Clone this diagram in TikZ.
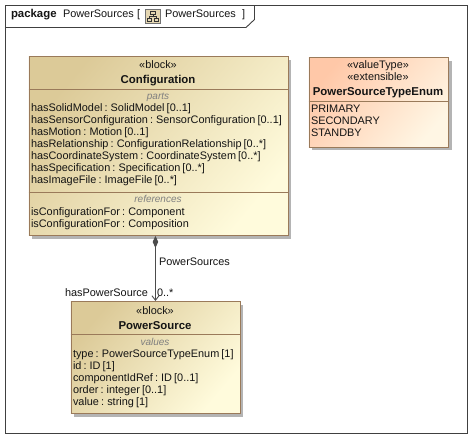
\documentclass[tikz,border=0pt]{standalone}
\usepackage{fontspec}
\setmainfont{Liberation Sans}
\usetikzlibrary{arrows.meta}
\definecolor{blockdark}{HTML}{DCCA98}
\definecolor{blocklight}{HTML}{FFFBDC}
\definecolor{enumdark}{HTML}{FFC8A8}
\definecolor{enumlight}{HTML}{FFF6E4}
\definecolor{edgebrown}{HTML}{9A7A5A}
\definecolor{shadowgray}{HTML}{B4B4B4}
\definecolor{inktext}{HTML}{141414}
\newcommand{\rowfont}{\fontsize{10.9}{12}\selectfont\spaceskip=2.1pt\relax}
\tikzset{
  x=1pt,y=-1pt,
  txt/.style={anchor=base west,inner sep=0pt,outer sep=0pt,font=\rowfont,text=inktext},
  ctr/.style={txt,anchor=base},
  boldtxt/.style={ctr,font=\fontsize{11.4}{12}\selectfont\bfseries},
  comp/.style={ctr,font=\fontsize{10}{12}\selectfont\itshape,text=black!50},
  boxshadow/.style={fill=shadowgray,draw=none},
  blockbox/.style={draw=edgebrown,line width=0.9pt,shading=axis,left color=blockdark,right color=blocklight,shading angle=50},
  enumbox/.style={draw=edgebrown,line width=0.9pt,shading=axis,left color=enumdark,right color=enumlight,shading angle=50},
  divider/.style={draw=edgebrown,line width=0.8pt},
  frameline/.style={draw=black!75,line width=0.9pt},
  assoc/.style={draw=black!70,line width=0.9pt,{Diamond[length=12pt,width=5.5pt,fill=black!70]}-{Straight Barb[length=4.5pt,width=7pt]}},
}
\begin{document}
\begin{tikzpicture}
\useasboundingbox (0,0) rectangle (473,438);
\fill[white] (0,0) rectangle (473,438);
% frame
\draw[frameline] (5.5,5.5) rectangle (467.5,433);
\draw[frameline] (5.5,27.5) -- (246,27.5) -- (254.5,19.5) -- (254.5,5.5);
\node[txt,font=\fontsize{11.4}{12}\selectfont\bfseries] (kw) at (11,18) {package};
\node[txt] (t1) at (63,18) {PowerSources};
\node[txt] (t2) at (137,18) {[};
\node[txt] (t3) at (165,18) {PowerSources};
\node[txt] (t4) at (242,18) {]};
% icon
\draw[draw=black!55,fill=blockdark!75,line width=0.6pt] (145.5,9) rectangle (160.5,23.5);
\draw[black!80,line width=0.6pt] (150.5,11) rectangle (155.5,14.5) (147.5,18.5) rectangle (151.5,21.5) (154.5,18.5) rectangle (158.5,21.5) (153,14.5) -- (153,16.5) (149.5,18.5) -- (149.5,16.5) -- (156.5,16.5) -- (156.5,18.5);
% shadows
\fill[boxshadow] (32,60) rectangle (291,238.5);
\fill[boxshadow] (74,305) rectangle (243,416.5);
\fill[boxshadow] (312,61) rectangle (451.5,150.5);
% Configuration
\node[blockbox,minimum width=259pt,minimum height=178.5pt,inner sep=0pt,anchor=north west] (cfg) at (28.5,56.5) {};
\draw[divider] (28.5,89.5) -- (287.5,89.5);
\draw[divider] (28.5,192) -- (287.5,192);
\node[ctr] (c0) at (158,69) {«block»};
\node[boldtxt] (c1) at (158,84) {Configuration};
\node[comp] (c2) at (158,100) {parts};
\node[txt] (c3) at (31,112) {hasSolidModel : SolidModel [0..1]};
\node[txt] (c4) at (31,124) {hasSensorConfiguration : SensorConfiguration [0..1]};
\node[txt] (c5) at (31,136) {hasMotion : Motion [0..1]};
\node[txt] (c6) at (31,148) {hasRelationship : ConfigurationRelationship [0..*]};
\node[txt] (c7) at (31,160) {hasCoordinateSystem : CoordinateSystem [0..*]};
\node[txt] (c8) at (31,172) {hasSpecification : Specification [0..*]};
\node[txt] (c9) at (31,184) {hasImageFile : ImageFile [0..*]};
\node[comp] (c10) at (158,203) {references};
\node[txt] (c11) at (31,215) {isConfigurationFor : Component};
\node[txt] (c12) at (31,227) {isConfigurationFor : Composition};
% PowerSource
\node[blockbox,minimum width=169pt,minimum height=112pt,inner sep=0pt,anchor=north west] (ps) at (70.5,301) {};
\draw[divider] (70.5,334) -- (239.5,334);
\node[ctr] (p0) at (155,314) {«block»};
\node[boldtxt] (p1) at (155,329) {PowerSource};
\node[comp] (p2) at (155,345) {values};
\node[txt] (p3) at (73,357) {type : PowerSourceTypeEnum [1]};
\node[txt] (p4) at (73,369) {id : ID [1]};
\node[txt] (p5) at (73,381) {componentIdRef : ID [0..1]};
\node[txt] (p6) at (73,393) {order : integer [0..1]};
\node[txt] (p7) at (73,405) {value : string [1]};
% Enum
\node[enumbox,minimum width=139.5pt,minimum height=90pt,inner sep=0pt,anchor=north west] (en) at (308.5,57) {};
\draw[divider] (308.5,101) -- (448,101);
\node[ctr] (e0) at (378,69) {«valueType»};
\node[ctr] (e1) at (378,81) {«extensible»};
\node[boldtxt] (e2) at (378,96) {PowerSourceTypeEnum};
\node[txt] (e3) at (311,113) {PRIMARY};
\node[txt] (e4) at (311,125) {SECONDARY};
\node[txt] (e5) at (311,137) {STANDBY};
% connector
\coordinate (cfgfoot) at (cfg.south -| ps.north);
\draw[assoc] (cfgfoot) -- (ps.north);
\node[txt] (l1) at (159,265) {PowerSources};
\node[txt] (l2) at (65,296) {hasPowerSource};
\node[txt] (l3) at (157,296) {0..*};
\end{tikzpicture}
\end{document}
